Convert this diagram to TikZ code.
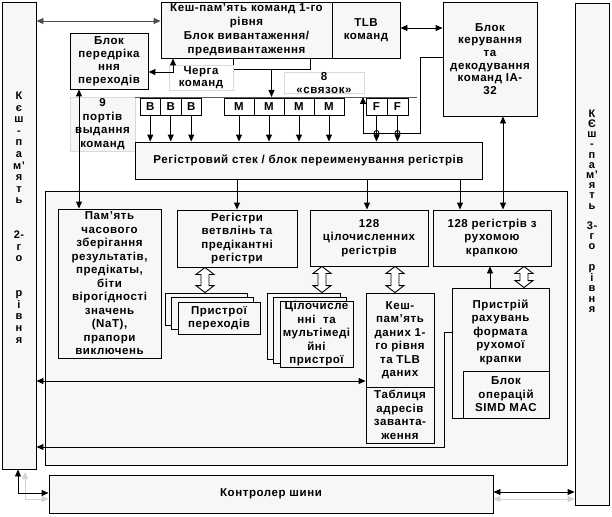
\documentclass[tikz,border=0pt]{standalone}
\usepackage{fontspec}
\setmainfont{Liberation Sans}[LetterSpace=5]
\usetikzlibrary{arrows.meta,calc}

% hollow double arrow between two nodes, at a given x
\newcommand{\hollowarrow}[3]{%
  \coordinate (ha) at (#2.south -| #1,0);
  \coordinate (hb) at (#3.north -| #1,0);
  \draw [fill=white] (ha) -- ++(9,7) -- ++(-5,0) -- ($(hb)+(4,-7)$) -- ++(5,0)
    -- (hb) -- ++(-9,-7) -- ++(5,0) -- ($(ha)+(-4,7)$) -- ++(-5,0) -- cycle;}

\begin{document}
\begin{tikzpicture}
    [x=1pt,y=-1pt,line width=0.9pt,
     >={Triangle[length=7pt,width=6pt]},
     font=\fontsize{11.5}{13.5}\selectfont\bfseries,
     box/.style={draw,fill=gray!6,align=center,inner sep=0pt},
     note/.style={draw=gray!30,fill=white,align=center,inner sep=0pt},
     port/.style={draw,fill=white,inner sep=0pt,minimum height=17},
     shade/.style={gray!35,line width=1pt}]

    \useasboundingbox (0,0) rectangle (612,516);

    % caches of 2nd and 3rd level:
    \node (l2) at (19,235.5) [box,minimum width=34,minimum height=467] {};
    \node (l2txt) at (19,217.5) [align=center,font=\fontsize{11}{11.6}\selectfont\bfseries]
      {К\\є\\ш\\-\\п\\а\\м’\\я\\т\\ь\\~\\~\\2-\\г\\о\\~\\~\\р\\і\\в\\н\\я};
    \node (l3) at (592,254) [box,minimum width=34,minimum height=502] {};
    \node (l3txt) at (592,211) [align=center,font=\fontsize{11}{10.2}\selectfont\bfseries]
      {К\\Є\\ш\\-\\п\\а\\м’\\я\\т\\ь\\~\\3-\\г\\о\\~\\р\\і\\в\\н\\я};

    % instruction fetch:
    \node (icache) at (246.5,30) [box,minimum width=171,minimum height=56,
      font=\fontsize{11.5}{14}\selectfont\bfseries]
      {Кеш-пам’ять команд 1-го\\рівня\\Блок вивантаження/\\предвивантаження};
    \node (itlb) at (366,30) [box,minimum width=68,minimum height=56] {TLB\\команд};
    \node (decode) at (490,59) [box,minimum width=94,minimum height=114,
      font=\fontsize{11.5}{12.6}\selectfont\bfseries]
      {Блок\\керування\\та\\декодування\\команд IA-\\32};
    \node (bpred) at (109,61) [box,minimum width=78,minimum height=56,
      font=\fontsize{11.5}{13}\selectfont\bfseries]
      {Блок\\передріка\\ння\\переходів};
    \node (queue) at (271.5,63.5) [draw,fill=white,minimum width=77,minimum height=11] {};
    \node (qnote) at (201,77.5) [note,minimum width=64,minimum height=25,
      font=\fontsize{11.5}{12}\selectfont\bfseries] {Черга\\команд};
    \node (bundles) at (324,83) [note,minimum width=80,minimum height=20,
      font=\fontsize{11.5}{13}\selectfont\bfseries] {8\\«связок»};
    \node (ports) at (102.5,124) [note,fill=gray!6,minimum width=65,minimum height=54]
      {9\\портів\\выдання\\команд};

    % issue ports:
    \coordinate (bar) at (135,97);
    \coordinate (barend) at (417,97);
    \node (b1) at (150.25,106.5) [port,minimum width=20.5] {B};
    \node (b2) at (170.75,106.5) [port,minimum width=20.5] {B};
    \node (b3) at (191.25,106.5) [port,minimum width=20.5] {B};
    \node (m1) at (239,106.5) [port,minimum width=30] {M};
    \node (m2) at (269,106.5) [port,minimum width=30] {M};
    \node (m3) at (299,106.5) [port,minimum width=30] {M};
    \node (m4) at (329,106.5) [port,minimum width=30] {M};
    \node (f1) at (376.5,106.5) [port,minimum width=21] {F};
    \node (f2) at (397.5,106.5) [port,minimum width=21] {F};

    % register stack:
    \node (stack) at (308.5,160.5) [box,minimum width=347,minimum height=37]
      {Регістровий стек / блок переименування регістрів};

    % execution core:
    \node (core) at (306,328) [box,minimum width=522,minimum height=274] {};
    \node (tmp) at (109.5,283.5) [box,minimum width=103,minimum height=149]
      {Пам’ять\\часового\\зберігання\\результатів,\\предікаты,\\біти\\вірогідності\\значень\\(NaT),\\прапори\\виключень};
    \node (breg) at (237,238.5) [box,minimum width=120,minimum height=57]
      {Регістри\\ветвлінь та\\предікантні\\регістри};
    \node (ireg) at (369,238) [box,minimum width=118,minimum height=56]
      {128\\цілочисленних\\регістрів};
    \node (freg) at (492,238) [box,minimum width=118,minimum height=56]
      {128 регістрів з\\рухомою\\крапкою};

    % execution units:
    \node (bru3) at (206,309) [box,minimum width=82,minimum height=32] {};
    \node (bru2) at (212.5,313.5) [box,minimum width=82,minimum height=32] {};
    \node (bru) at (219,318) [box,minimum width=82,minimum height=32] {Пристрої\\переходів};
    \node (iu3) at (303.5,326) [box,minimum width=73,minimum height=66] {};
    \node (iu2) at (310,330) [box,minimum width=73,minimum height=66] {};
    \node (iu) at (316.5,334) [box,minimum width=73,minimum height=66]
      {Цілочисле\\нні~ та\\мультімеді\\йні\\пристрої};
    \node (dcache) at (400,340) [box,minimum width=68,minimum height=94]
      {Кеш-\\пам’ять\\даних 1-\\го рівня\\та TLB\\даних};
    \node (ldtab) at (400,415) [box,minimum width=68,minimum height=56]
      {Таблиця\\адресів\\заванта-\\ження};
    \node (fpu) at (500.5,353) [box,minimum width=97,minimum height=130] {};
    \node (fputxt) at (500.5,332) [align=center]
      {Пристрій\\рахувань\\формата\\рухомої\\крапки};
    \node (simd) at (506,394.5) [box,minimum width=86,minimum height=47]
      {Блок\\операцій\\SIMD MAC};

    % bus controller:
    \node (bus) at (271,494) [box,minimum width=444,minimum height=38] {Контролер шини};

    % connect nodes:
    \draw [<->,gray!60!black] (l2.east |- 0,21) -- (icache.west |- 0,21);
    \draw [<->] (itlb.east |- 0,28) -- (decode.west |- 0,28);
    \draw [<->] (bpred.east |- 0,72) -| (icache.south -| 173,0);
    \draw [->] (queue) -- (queue |- bar);
    \draw [gray!70!black] (bar) -- (barend);
    \foreach \p in {b1,b2,b3,m1,m2,m3,m4,f1,f2}
      \draw [->] (\p) -- (\p |- stack.north);
    \draw [->] (decode.west |- 0,57) -| (420,133) -| (bar -| 363,0);
    \foreach \f in {f1,f2}
      \draw (\f |- 0,133) circle (2.5);
    \draw [<->] (bpred.south -| 79,0) -- (tmp.north -| 79,0);
    \draw [->] (stack.south -| breg) -- (breg);
    \draw [->] (stack.south -| 367,0) -- (ireg.north -| 367,0);
    \draw [->] (stack.south -| 460,0) -- (freg.north -| 460,0);
    \draw [<->] (decode.south -| 503,0) -- (freg.north -| 503,0);

    \hollowarrow{205}{breg}{bru3}
    \hollowarrow{322}{ireg}{iu3}
    \hollowarrow{395}{ireg}{dcache}
    \hollowarrow{524}{freg}{fpu}

    \draw [->] (fpu.north -| 490,0) -- (freg.south -| 490,0);
    \draw [<->] (l2.east |- 0,381) -- (dcache.west |- 0,381);
    \draw [->] (fpu.west |- 0,332) -| (444,447) -- (l2.east |- 0,447);

    \draw [<->,shade] (25,472) |- (bus.west |- 0,499);
    \draw [<->,shade] (bus.east |- 0,499) -- (l3.west |- 0,499);
    \draw [<->] (bus.east |- 0,492) -- (l3.west |- 0,492);
    \draw [<->] (bus.west |- 0,493) -| (l2.south -| 18,0);

\end{tikzpicture}
\end{document}
